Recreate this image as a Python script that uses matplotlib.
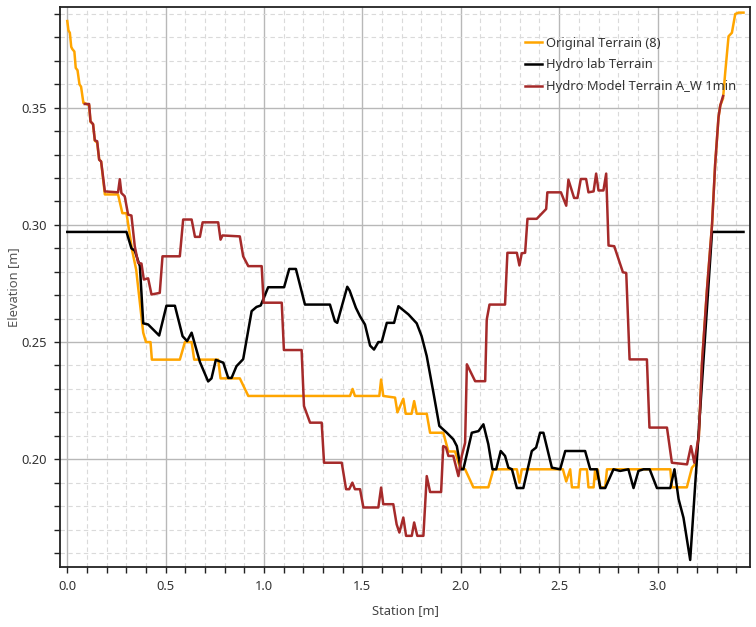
import matplotlib
matplotlib.use("Agg")
import matplotlib.pyplot as plt
from matplotlib.ticker import MultipleLocator, FormatStrFormatter

plt.rcParams['font.family'] = ['Noto Sans', 'DejaVu Sans']

# ---------------- data ----------------
orig_x = [0.000, 0.006, 0.013, 0.020, 0.026, 0.036, 0.043, 0.052, 0.062, 0.070, 0.082, 0.089, 0.111,
          0.118, 0.131, 0.140, 0.152, 0.162, 0.172,
          0.191, 0.258, 0.280, 0.301, 0.330, 0.350, 0.386, 0.400, 0.423, 0.430, 0.572, 0.598, 0.632,
          0.645, 0.767, 0.779, 0.877, 0.920, 1.437, 1.450, 1.462, 1.586, 1.595, 1.606, 1.666, 1.678,
          1.708, 1.720, 1.750, 1.763, 1.776, 1.827, 1.844, 1.911, 1.937, 1.971, 1.996, 2.022, 2.064,
          2.140, 2.166, 2.285, 2.298, 2.310, 2.519, 2.536, 2.556, 2.565, 2.598, 2.607, 2.641, 2.649,
          2.675, 2.683, 2.688, 2.695, 2.709, 2.734, 2.743, 3.065, 3.073, 3.149, 3.175, 3.192, 3.210,
          3.226, 3.251, 3.277, 3.293, 3.310, 3.319, 3.333, 3.344, 3.361, 3.378, 3.395, 3.412, 3.437]
orig_y = [0.387, 0.383, 0.382, 0.376, 0.375, 0.374, 0.367, 0.366, 0.360, 0.359, 0.352, 0.352, 0.351,
          0.344, 0.343, 0.336, 0.335, 0.328, 0.327,
          0.313, 0.313, 0.305, 0.305, 0.289, 0.281, 0.254, 0.250, 0.250, 0.2425, 0.2425, 0.250, 0.250,
          0.2425, 0.2425, 0.2345, 0.2345, 0.227, 0.227, 0.230, 0.227, 0.227, 0.234, 0.227, 0.2263, 0.220,
          0.2258, 0.2194, 0.2194, 0.2248, 0.2194, 0.2194, 0.2113, 0.2113, 0.2033, 0.2033, 0.1964, 0.1957, 0.188,
          0.188, 0.1957, 0.1957, 0.190, 0.1957, 0.1957, 0.1905, 0.1957, 0.188, 0.188, 0.1957, 0.1957, 0.188,
          0.188, 0.1957, 0.1915, 0.1957, 0.188, 0.188, 0.1957, 0.1957, 0.188, 0.188, 0.1964, 0.198, 0.210,
          0.241, 0.272, 0.300, 0.326, 0.346, 0.351, 0.354, 0.365, 0.3805, 0.382, 0.390, 0.3906, 0.3906]

lab_x = [0.000, 0.301, 0.326, 0.343, 0.369, 0.386, 0.411, 0.467, 0.504, 0.547, 0.586, 0.609, 0.632,
         0.674, 0.716, 0.733, 0.755, 0.793, 0.818, 0.835, 0.860, 0.894, 0.937, 0.962, 0.983, 1.021,
         1.102, 1.128, 1.162, 1.208, 1.335, 1.360, 1.372, 1.423, 1.435, 1.467, 1.488, 1.513, 1.539,
         1.559, 1.581, 1.598, 1.624, 1.661, 1.683, 1.734, 1.776, 1.801, 1.827, 1.861, 1.891, 1.929,
         1.962, 1.980, 2.000, 2.013, 2.056, 2.090, 2.115, 2.140, 2.161, 2.180, 2.203, 2.225, 2.242,
         2.260, 2.285, 2.318, 2.361, 2.383, 2.403, 2.420, 2.463, 2.505, 2.531, 2.632, 2.658, 2.692,
         2.709, 2.734, 2.776, 2.810, 2.852, 2.878, 2.903, 2.929, 2.960, 2.997, 3.065, 3.086, 3.107,
         3.132, 3.166, 3.277, 3.437]
lab_y = [0.297, 0.297, 0.290, 0.289, 0.2824, 0.258, 0.2575, 0.2528, 0.2655, 0.2655, 0.2525, 0.2504, 0.254,
         0.2415, 0.2332, 0.2345, 0.2424, 0.2412, 0.2347, 0.2347, 0.2397, 0.2427, 0.2632, 0.265, 0.2656, 0.2734,
         0.2734, 0.2812, 0.2812, 0.266, 0.266, 0.2589, 0.2582, 0.2736, 0.272, 0.2646, 0.261, 0.2575, 0.2485,
         0.2468, 0.250, 0.250, 0.2582, 0.2582, 0.2653, 0.2618, 0.258, 0.2525, 0.244, 0.2284, 0.2142, 0.2113,
         0.2085, 0.2056, 0.1957, 0.1957, 0.2113, 0.212, 0.2149, 0.2064, 0.1957, 0.1957, 0.2035, 0.2014, 0.1964,
         0.1957, 0.1877, 0.1877, 0.2035, 0.205, 0.2113, 0.2113, 0.1964, 0.1957, 0.2035, 0.2035, 0.1957, 0.1957,
         0.1877, 0.1877, 0.1957, 0.195, 0.1957, 0.1877, 0.195, 0.1957, 0.1957, 0.1877, 0.1877, 0.1957, 0.183,
         0.175, 0.157, 0.297, 0.297]

model_x = [0.089, 0.111, 0.118, 0.131, 0.140, 0.152, 0.162, 0.172, 0.191, 0.258, 0.267, 0.275, 0.292,
           0.309, 0.326, 0.343, 0.360, 0.377, 0.389, 0.411, 0.428, 0.470, 0.484, 0.572, 0.589, 0.632,
           0.649, 0.674, 0.688, 0.767, 0.779, 0.789, 0.877, 0.894, 0.920, 0.988, 0.998, 1.090, 1.101,
           1.191, 1.203, 1.234, 1.293, 1.305, 1.395, 1.417, 1.433, 1.449, 1.462, 1.488, 1.505, 1.581,
           1.595, 1.606, 1.657, 1.674, 1.688, 1.708, 1.722, 1.751, 1.763, 1.779, 1.810, 1.827, 1.844,
           1.900, 1.911, 1.925, 1.937, 1.962, 1.988, 2.005, 2.022, 2.031, 2.073, 2.124, 2.132, 2.146,
           2.225, 2.237, 2.285, 2.298, 2.310, 2.327, 2.339, 2.386, 2.434, 2.440, 2.509, 2.536, 2.547,
           2.576, 2.593, 2.610, 2.637, 2.649, 2.675, 2.688, 2.700, 2.725, 2.739, 2.751, 2.780, 2.824,
           2.841, 2.858, 2.946, 2.959, 3.048, 3.073, 3.150, 3.170, 3.187, 3.210, 3.226, 3.251, 3.277,
           3.293, 3.310, 3.319, 3.333]
model_y = [0.3516, 0.3516, 0.3442, 0.343, 0.3361, 0.3357, 0.3278, 0.3271, 0.3143, 0.3139, 0.3195, 0.3136, 0.3122,
           0.3044, 0.304, 0.2909, 0.2838, 0.2835, 0.2767, 0.2772, 0.2703, 0.271, 0.2866, 0.2866, 0.3023, 0.3023,
           0.2949, 0.2949, 0.3011, 0.3011, 0.2937, 0.2955, 0.2951, 0.2866, 0.2824, 0.2824, 0.2668, 0.2668, 0.2466,
           0.2466, 0.2227, 0.2156, 0.2156, 0.1985, 0.1985, 0.1872, 0.1872, 0.190, 0.1872, 0.1872, 0.1794, 0.1794,
           0.1879, 0.1808, 0.1808, 0.1722, 0.1687, 0.1751, 0.1673, 0.1673, 0.173, 0.1673, 0.1673, 0.1928, 0.186,
           0.186, 0.2056, 0.205, 0.2014, 0.2014, 0.1928, 0.2014, 0.207, 0.2405, 0.2333, 0.2333, 0.2596, 0.266,
           0.266, 0.2881, 0.2881, 0.2827, 0.2879, 0.2881, 0.3026, 0.3026, 0.3068, 0.3139, 0.3139, 0.3082, 0.3193,
           0.3115, 0.3115, 0.3196, 0.3196, 0.3139, 0.3143, 0.3219, 0.3147, 0.3147, 0.3219, 0.2912, 0.2909, 0.2798,
           0.2795, 0.2426, 0.2426, 0.2135, 0.2135, 0.1985, 0.1978, 0.2056, 0.1985, 0.210, 0.241, 0.272, 0.300,
           0.326, 0.346, 0.351, 0.355]

series_labels = ["Original Terrain (8)", "Hydro lab Terrain", "Hydro Model Terrain A_W 1min"]
series_colors = ["#FFA500", "#000000", "#A52A2A"]

x_major = [0.0, 0.5, 1.0, 1.5, 2.0, 2.5, 3.0]
y_major = [0.20, 0.25, 0.30, 0.35]

# ---------------- figure ----------------
fig = plt.figure(figsize=(7.56, 6.27), dpi=100)
ax = fig.add_axes([60 / 756, 1 - 567 / 627, 690 / 756, 560 / 627])

for xs, ys, lab, col in zip([orig_x, lab_x, model_x], [orig_y, lab_y, model_y],
                            series_labels, series_colors):
    ax.plot(xs, ys, color=col, lw=1.8, label=lab, solid_joinstyle='round', zorder=3)

ax.set_xlim(-0.037, 3.47)
ax.set_ylim(0.154, 0.393)

ax.set_xticks(x_major)
ax.set_yticks(y_major)
ax.xaxis.set_major_formatter(FormatStrFormatter('%.1f'))
ax.yaxis.set_major_formatter(FormatStrFormatter('%.2f'))
ax.xaxis.set_minor_locator(MultipleLocator(0.1))
ax.yaxis.set_minor_locator(MultipleLocator(0.01))

ax.grid(which='major', color='#b8b8b8', lw=1.0, linestyle='-', zorder=0)
ax.grid(which='minor', color='#dadada', lw=0.8, linestyle=(0, (4, 3)), zorder=0)
ax.set_axisbelow(True)

ax.tick_params(which='both', direction='out', length=4.5, width=1.0, color='#222222',
               labelsize=9.3, labelcolor='#333333', pad=5)
for s in ax.spines.values():
    s.set_color('#222222')
    s.set_linewidth(1.3)

ax.set_xlabel("Station [m]", fontsize=9.3, color='#444444', labelpad=8)
ax.set_ylabel("Elevation [m]", fontsize=9.3, color='#555555', labelpad=1)

leg = ax.legend(loc='upper left', bbox_to_anchor=(0.674, 0.947), frameon=False,
                fontsize=9.3, handlelength=1.3, handletextpad=0.35, labelspacing=0.68,
                borderpad=0, borderaxespad=0)
for t in leg.get_texts():
    t.set_color('#333333')

fig.savefig("out.png", dpi=100)
